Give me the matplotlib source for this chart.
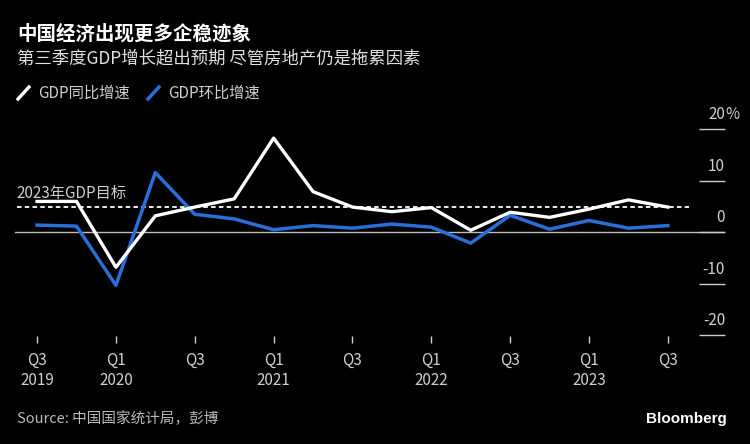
import matplotlib
matplotlib.use('Agg')
import matplotlib.pyplot as plt
from matplotlib.lines import Line2D

plt.rcParams['font.family'] = ['Noto Sans CJK SC', 'DejaVu Sans']

# 季度 (2019Q3 - 2023Q3)
quarters = ['Q3\n2019', 'Q4', 'Q1\n2020', 'Q2', 'Q3', 'Q4', 'Q1\n2021', 'Q2', 'Q3', 'Q4',
            'Q1\n2022', 'Q2', 'Q3', 'Q4', 'Q1\n2023', 'Q2', 'Q3']
yoy = [6.0, 6.0, -6.8, 3.2, 4.9, 6.5, 18.3, 7.9, 4.9, 4.0, 4.8, 0.4, 3.9, 2.9, 4.5, 6.3, 4.9]
qoq = [1.4, 1.2, -10.3, 11.6, 3.5, 2.6, 0.5, 1.3, 0.8, 1.6, 1.0, -2.1, 3.3, 0.6, 2.3, 0.8, 1.3]
target = 5.0
yticks = [-20, -10, 0, 10, 20]

bg = '#000000'
fg = '#cfcfcf'
blue = '#2a6fd9'
narrow = ['Liberation Sans Narrow', 'Noto Sans CJK SC', 'DejaVu Sans']

fig = plt.figure(figsize=(7.5, 4.44), dpi=100, facecolor=bg)
ax = fig.add_axes([0.02, 1 - 343 / 444, 0.9467, (343 - 118) / 444])
ax.set_facecolor(bg)

x = list(range(len(quarters)))
ax.plot(x, yoy, color='white', lw=2.4, zorder=3)
ax.plot(x, qoq, color=blue, lw=2.5, zorder=2)

ax.axhline(0, color='#bdbdbd', lw=1.0, zorder=1)
ax.axhline(target, xmin=0.003, xmax=0.949, color='white', lw=1.3, ls=(0, (2.5, 1.8)), zorder=1)
ax.text(-0.52, target + 0.8, '2023年GDP目标', color=fg, fontsize=11, va='bottom', ha='left', family=narrow)

ax.set_xlim(-0.56, 17.45)
ax.set_ylim(-21.5, 22.2)

for s in ax.spines.values():
    s.set_visible(False)

ax.set_xticks(x[::2])
ax.set_xticklabels([q for q in quarters[::2]], family=narrow)
ax.tick_params(axis='x', colors=fg, labelsize=11, length=5, direction='in', pad=6, width=1)
for lab in ax.get_xticklabels():
    lab.set_verticalalignment('top')
    lab.set_linespacing(1.25)

ax.yaxis.tick_right()
ax.set_yticks(yticks)
ax.tick_params(axis='y', colors='#cccccc', length=19, direction='in', width=1, labelright=False)
for v in yticks:
    ax.text(1.0, v + 1.2, str(v), transform=ax.get_yaxis_transform(), color=fg,
            fontsize=11, ha='right', va='bottom', family=narrow)
ax.text(1.0, 20 + 1.2, '%', transform=ax.get_yaxis_transform(), color=fg,
        fontsize=11, ha='left', va='bottom', family=narrow)

# titles
fig.text(17 / 750, 1 - 34 / 444, '中国经济出现更多企稳迹象', color='white', fontsize=14, fontweight='bold', va='center')
fig.text(17 / 750, 1 - 59 / 444, '第三季度GDP增长超出预期 尽管房地产仍是拖累因素', color='#e0e0e0', fontsize=12.5, va='center')

# legend
fig.add_artist(Line2D([18 / 750, 29 / 750], [1 - 99 / 444, 1 - 87 / 444], color='white', lw=2.4))
fig.text(38 / 750, 1 - 93 / 444, 'GDP同比增速', color=fg, fontsize=11, va='center')
fig.add_artist(Line2D([148 / 750, 159 / 750], [1 - 99 / 444, 1 - 87 / 444], color=blue, lw=2.5))
fig.text(168 / 750, 1 - 93 / 444, 'GDP环比增速', color=fg, fontsize=11, va='center')

# footer
fig.text(17 / 750, 1 - 419 / 444, 'Source: 中国国家统计局，彭博', color='#bbbbbb', fontsize=10.5, va='center')
fig.text(727 / 750, 1 - 419 / 444, 'Bloomberg', color='white', fontsize=11, fontweight='bold',
         va='center', ha='right', family=['Liberation Sans', 'DejaVu Sans'])

fig.savefig('out.png', dpi=100, facecolor=bg)
